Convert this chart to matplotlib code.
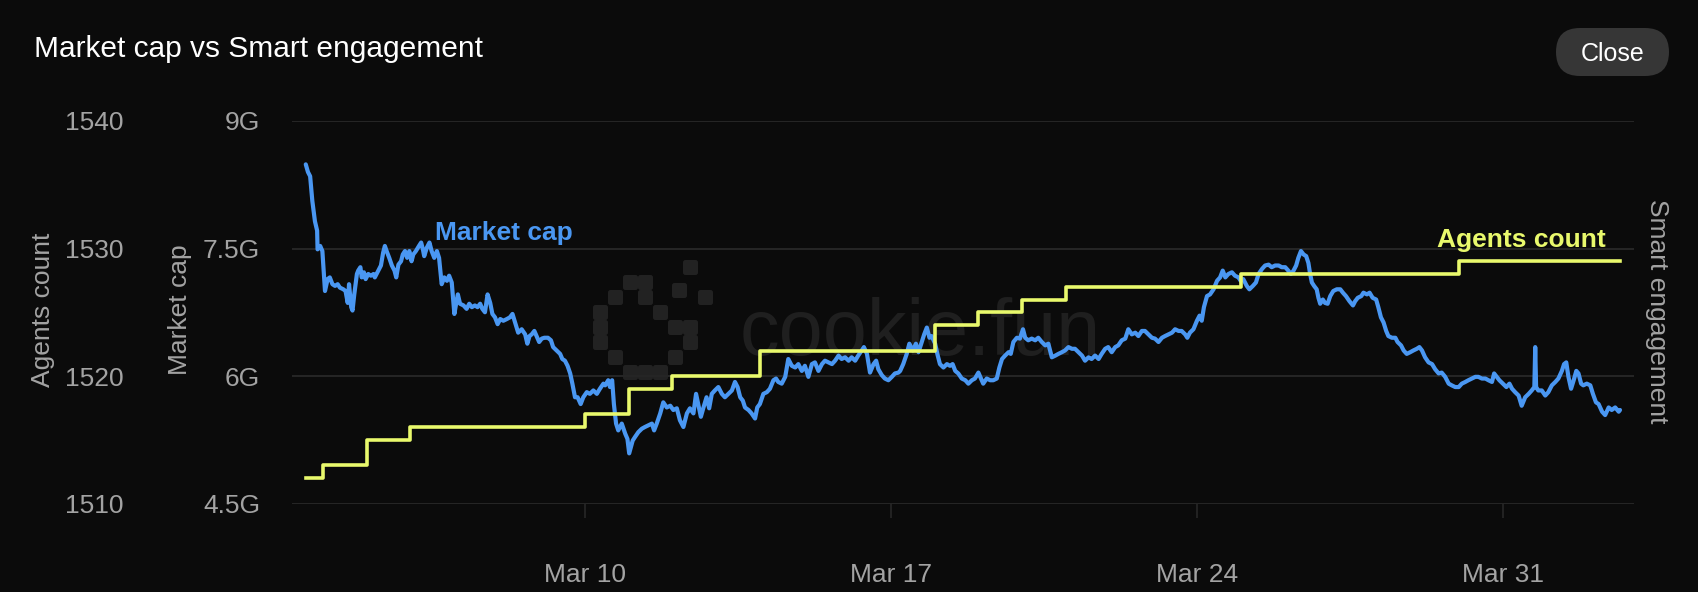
import numpy as np
import pandas as pd
import matplotlib
matplotlib.use("Agg")
import matplotlib.pyplot as plt
import matplotlib.dates as mdates
from matplotlib.patches import FancyBboxPatch

# ---------------- data ----------------
# Market cap (billions USD); time given as fractional day of March 2025
mc_day = [3.61,3.66,3.71,3.76,3.82,3.87,3.88,3.94,3.99,4.05,
          4.11,4.16,4.22,4.28,4.34,4.39,4.47,4.52,4.57,4.60,
          4.65,4.68,4.72,4.78,4.81,4.86,4.89,4.94,4.98,5.04,
          5.10,5.16,5.19,5.27,5.33,5.38,5.42,5.46,5.52,5.58,
          5.64,5.68,5.73,5.79,5.83,5.88,5.93,5.98,6.03,6.07,
          6.13,6.20,6.25,6.29,6.32,6.38,6.44,6.49,6.55,6.61,
          6.66,6.72,6.78,6.84,6.89,6.95,7.01,7.05,7.09,7.14,
          7.22,7.29,7.35,7.41,7.48,7.54,7.60,7.65,7.71,7.77,
          7.83,7.88,7.94,8.00,8.06,8.13,8.21,8.28,8.34,8.40,
          8.47,8.55,8.63,8.68,8.73,8.78,8.84,8.89,8.95,9.01,
          9.07,9.15,9.22,9.27,9.35,9.43,9.48,9.54,9.60,9.66,
          9.71,9.77,9.83,9.90,9.96,10.04,10.11,10.19,10.27,10.34,10.42,
          10.46,10.53,10.57,10.62,10.66,10.71,10.76,10.84,10.92,10.97,
          11.01,11.09,11.14,11.22,11.30,11.37,11.45,11.53,11.58,11.64,
          11.72,11.79,11.87,11.95,12.02,12.10,12.17,12.25,12.33,12.40,
          12.48,12.54,12.59,12.65,12.71,12.78,12.84,12.90,12.97,13.05,
          13.13,13.20,13.28,13.36,13.43,13.49,13.55,13.61,13.66,13.74,
          13.81,13.89,13.94,14.00,14.08,14.16,14.23,14.31,14.37,14.42,
          14.50,14.58,14.65,14.73,14.81,14.88,14.96,15.03,15.11,15.19,
          15.26,15.34,15.42,15.49,15.57,15.65,15.72,15.80,15.87,15.95,
          16.03,16.10,16.18,16.25,16.33,16.38,16.45,16.52,16.60,16.66,
          16.71,16.79,16.86,16.94,17.02,17.09,17.17,
          17.21,17.28,17.36,17.42,17.50,17.57,17.63,17.68,17.76,17.82,
          17.88,17.93,18.01,18.06,18.12,18.20,18.28,18.35,18.41,18.47,
          18.54,18.62,18.70,18.77,18.85,18.92,19.00,19.06,19.11,19.19,
          19.27,19.34,19.42,19.48,19.54,19.61,19.69,19.74,19.80,19.88,
          19.95,20.02,20.07,20.14,20.22,20.30,20.37,20.45,20.53,20.60,
          20.68,20.76,20.83,20.91,20.98,21.06,21.14,21.21,21.29,21.37,
          21.44,21.52,21.59,21.67,21.75,21.82,21.90,21.97,22.05,22.13,
          22.20,22.28,22.36,22.43,22.51,22.59,22.66,22.74,22.81,22.89,
          22.97,23.04,23.12,23.20,23.27,23.35,23.43,23.50,23.58,23.65,
          23.73,23.78,23.84,23.92,24.00,24.06,24.11,24.16,24.23,24.30,
          24.38,24.46,24.53,24.59,24.65,24.72,24.80,24.87,24.95,25.00,
          25.06,25.14,25.20,25.28,25.35,25.41,25.49,25.56,25.64,25.71,
          25.79,25.87,25.94,26.02,26.09,26.15,26.21,26.27,26.32,26.38,
          26.44,26.50,26.55,26.59,26.63,26.68,26.74,26.78,26.82,26.88,
          26.93,26.99,27.05,27.12,27.20,27.28,27.34,27.41,27.49,27.57,
          27.62,27.68,27.76,27.81,27.89,27.95,28.02,28.10,28.15,28.21,
          28.27,28.33,28.38,28.46,28.54,28.59,28.67,28.73,28.80,28.88,
          28.95,29.03,29.09,29.15,29.22,29.30,29.38,29.45,29.53,29.60,
          29.68,29.76,29.83,29.91,29.99,30.06,30.14,30.21,30.29,30.37,
          30.44,30.52,30.60,30.67,30.75,30.80,30.86,30.92,31.00,31.08,
          31.15,31.21,31.28,31.36,31.43,31.51,31.59,31.66,31.72,31.74,
          31.76,31.81,31.89,31.97,32.04,32.12,32.20,32.27,32.35,32.40,
          32.45,32.50,32.56,32.62,32.68,32.73,32.79,32.84,32.92,33.00,
          33.06,33.13,33.19,33.27,33.34,33.42,33.49,33.57,33.65,33.68]

mc_value = [8.49,8.40,8.35,8.06,7.82,7.71,7.49,7.53,7.47,7.00,
            7.14,7.16,7.08,7.06,7.08,7.04,7.02,7.00,6.86,7.08,
            6.81,6.77,6.96,7.20,7.24,7.28,7.16,7.22,7.14,7.20,
            7.18,7.20,7.16,7.24,7.30,7.45,7.53,7.47,7.39,7.30,
            7.24,7.16,7.31,7.35,7.43,7.47,7.39,7.47,7.35,7.43,
            7.47,7.53,7.57,7.49,7.41,7.51,7.57,7.47,7.39,7.47,
            7.39,7.08,7.16,7.12,7.18,7.10,6.73,6.85,6.96,6.85,
            6.83,6.79,6.85,6.81,6.83,6.81,6.85,6.79,6.75,6.96,
            6.86,6.73,6.69,6.61,6.67,6.65,6.67,6.69,6.73,6.63,
            6.51,6.55,6.49,6.38,6.47,6.49,6.53,6.47,6.40,6.44,
            6.45,6.45,6.42,6.34,6.30,6.26,6.20,6.18,6.12,6.03,
            5.91,5.75,5.75,5.67,5.75,5.81,5.79,5.83,5.79,5.85,5.91,
            5.89,5.95,5.87,5.95,5.67,5.44,5.36,5.44,5.32,5.26,
            5.09,5.24,5.28,5.34,5.38,5.40,5.42,5.44,5.36,5.44,
            5.56,5.69,5.63,5.65,5.60,5.62,5.48,5.40,5.56,5.62,
            5.56,5.79,5.67,5.52,5.63,5.75,5.62,5.79,5.83,5.87,
            5.79,5.75,5.79,5.83,5.93,5.87,5.75,5.71,5.63,5.60,
            5.56,5.50,5.63,5.67,5.79,5.81,5.85,5.95,5.97,5.93,
            5.91,5.99,6.20,6.12,6.10,6.14,6.06,6.12,5.99,6.14,
            6.16,6.06,6.14,6.18,6.16,6.14,6.18,6.24,6.20,6.22,
            6.18,6.22,6.18,6.24,6.30,6.34,6.26,6.04,6.14,6.18,
            6.08,6.01,5.97,5.95,5.99,6.03,6.04,
            6.06,6.14,6.26,6.38,6.30,6.38,6.28,6.36,6.49,6.57,
            6.45,6.47,6.38,6.26,6.14,6.10,6.14,6.12,6.14,6.06,
            6.03,5.97,5.95,5.91,5.95,5.97,6.04,5.97,5.91,5.97,
            5.95,5.95,5.97,6.10,6.20,6.24,6.28,6.26,6.40,6.45,
            6.44,6.55,6.45,6.42,6.44,6.42,6.45,6.40,6.36,6.38,
            6.22,6.24,6.26,6.28,6.30,6.34,6.32,6.32,6.28,6.24,
            6.18,6.22,6.20,6.24,6.20,6.26,6.32,6.34,6.28,6.34,
            6.36,6.42,6.44,6.55,6.49,6.51,6.47,6.53,6.53,6.49,
            6.45,6.44,6.40,6.45,6.47,6.49,6.51,6.55,6.53,6.53,
            6.49,6.45,6.51,6.55,6.65,6.71,6.65,6.81,6.94,6.96,
            7.02,7.12,7.16,7.24,7.16,7.20,7.22,7.18,7.16,7.12,
            7.14,7.06,7.02,7.06,7.10,7.20,7.26,7.30,7.31,7.28,
            7.30,7.30,7.28,7.28,7.24,7.20,7.24,7.30,7.39,7.47,
            7.43,7.41,7.33,7.20,7.10,7.06,7.02,6.92,6.85,6.90,
            6.86,6.85,6.94,7.00,7.02,7.02,6.98,6.94,6.88,6.83,
            6.88,6.92,6.94,6.98,6.96,6.98,6.92,6.90,6.81,6.69,
            6.63,6.53,6.47,6.45,6.45,6.40,6.36,6.30,6.26,6.28,
            6.30,6.32,6.34,6.30,6.22,6.16,6.14,6.08,6.03,6.04,
            5.99,5.91,5.89,5.87,5.87,5.91,5.93,5.95,5.97,5.99,
            5.99,5.97,5.97,5.95,5.93,6.03,5.99,5.95,5.91,5.87,
            5.91,5.85,5.81,5.77,5.65,5.75,5.79,5.83,5.87,6.34,
            5.87,5.83,5.83,5.77,5.81,5.89,5.93,5.97,6.06,6.14,
            6.16,5.99,5.85,5.95,6.06,6.03,5.91,5.89,5.91,5.89,
            5.79,5.69,5.67,5.58,5.54,5.63,5.60,5.63,5.58,5.60]

# Agents count (step series): moments of change and the count from then on
agent_dates = ["2025-03-03 14:40", "2025-03-04 00:00", "2025-03-05 00:00", "2025-03-06 00:00",
               "2025-03-10 00:00", "2025-03-11 00:00", "2025-03-12 00:00", "2025-03-14 00:00",
               "2025-03-18 00:00", "2025-03-19 00:00", "2025-03-20 00:00", "2025-03-21 00:00",
               "2025-03-25 00:00", "2025-03-30 00:00", "2025-04-02 16:20"]
agent_counts = [1512, 1513, 1515, 1516, 1517, 1519, 1520, 1522,
                1524, 1525, 1526, 1527, 1528, 1529, 1529]

mc_ticks = [4.5, 6, 7.5, 9]
mc_tick_labels = ["4.5G", "6G", "7.5G", "9G"]
agent_ticks = [1510, 1520, 1530, 1540]
date_ticks = ["2025-03-10", "2025-03-17", "2025-03-24", "2025-03-31"]

assert len(mc_day) == len(mc_value)

# ---------------- style ----------------
W, H, DPI = 1698, 592, 100
BG = "#0b0b0b"
GRID = "#262626"
TICKC = "#a3a3a3"
BLUE = "#4a97f2"
YEL = "#e9f96c"
FONT = "Liberation Sans"
plt.rcParams["font.family"] = [FONT, "DejaVu Sans"]


def fx(x):
    return x / W


def fy(y):
    return 1 - y / H


base = pd.Timestamp("2025-03-01")
mc_times = base + pd.to_timedelta(np.array(mc_day) - 1, unit="D")
agent_times = pd.to_datetime(agent_dates, format="%Y-%m-%d %H:%M")

fig = plt.figure(figsize=(W / DPI, H / DPI), dpi=DPI, facecolor=BG)

ax = fig.add_axes([fx(292), fy(503.5), (1634 - 292) / W, (503.5 - 121) / H])
ax.set_facecolor("none")
ax2 = ax.twinx()

# market cap line
ax.plot(mc_times, mc_value, color=BLUE, lw=3.0, solid_joinstyle="round",
        solid_capstyle="round", zorder=3)
ax.set_ylim(4.5, 9)
ax.set_yticks(mc_ticks)
ax.set_yticklabels(mc_tick_labels)
ax.grid(axis="y", color=GRID, lw=1.4)
ax.set_axisbelow(True)
ax.set_xlim(pd.Timestamp("2025-03-03 07:05"), pd.Timestamp("2025-04-03 00:00"))
ax.set_xticks(pd.to_datetime(date_ticks))
ax.xaxis.set_major_formatter(mdates.DateFormatter("%b %d"))
ax.tick_params(axis="y", length=0, pad=23, labelsize=19, labelcolor=TICKC)
ax.tick_params(axis="x", length=10, width=1.1, color="#2a2a2a", pad=33,
               labelsize=19, labelcolor=TICKC)

# agents count step line
ax2.step(agent_times, agent_counts, where="post", color=YEL, lw=2.6, zorder=4)
ax2.set_ylim(1510, 1540)
ax2.set_yticks(agent_ticks)
ax2.yaxis.set_ticks_position("left")
ax2.tick_params(axis="y", length=0, pad=121.5, labelsize=19, labelcolor=TICKC)

for a in (ax, ax2):
    for s in a.spines.values():
        s.set_visible(False)

# axis titles
fig.text(fx(43.5), fy(310), "Agents count", rotation=90, ha="center", va="center",
         fontsize=19, color=TICKC)
fig.text(fx(180.5), fy(310), "Market cap", rotation=90, ha="center", va="center",
         fontsize=19, color=TICKC)
fig.text(fx(1657), fy(311), "Smart engagement", rotation=270, ha="center", va="center",
         fontsize=19, color=TICKC)

# series labels
fig.text(fx(435), fy(240), "Market cap", fontsize=19, fontweight="bold",
         color=BLUE, va="baseline", ha="left")
fig.text(fx(1437), fy(246.5), "Agents count", fontsize=19, fontweight="bold",
         color=YEL, va="baseline", ha="left")

# title
fig.text(fx(34.5), fy(57), "Market cap vs Smart engagement", fontsize=21.5,
         color="white", va="baseline", ha="left")

# close button
fig.add_artist(FancyBboxPatch((1556 / DPI, (H - 76) / DPI), 113 / DPI, 48 / DPI,
                              boxstyle="round,pad=0,rounding_size=0.24",
                              transform=fig.dpi_scale_trans, fc="#363636", ec="none"))
fig.text(fx(1612.5), fy(61), "Close", fontsize=18, color="white",
         ha="center", va="baseline")

# watermark (cookie.fun logo + text)
WM = "#222222"
logo = ["......#.",
        "..##....",
        ".#.#...#",
        "#...#...",
        "#....##.",
        "#.....#.",
        ".#...#..",
        "..###..."]
cells = [(593 + 15 * c, 260 + 15 * r) for r, row in enumerate(logo)
         for c, ch in enumerate(row) if ch == "#"]
cells.append((672, 283))  # offset crumb
for (x0, y0) in cells:
    fig.add_artist(FancyBboxPatch((x0 / DPI, (H - y0 - 15) / DPI), 0.15, 0.15,
                                  boxstyle="round,pad=0,rounding_size=0.025",
                                  transform=fig.dpi_scale_trans,
                                  fc=WM, ec="none", zorder=-1))
fig.text(fx(740), fy(355), "cookie.fun", fontsize=57, color="#1f1f1f", va="baseline",
         ha="left", zorder=-1)

fig.savefig("out.png", dpi=DPI, facecolor=BG)
